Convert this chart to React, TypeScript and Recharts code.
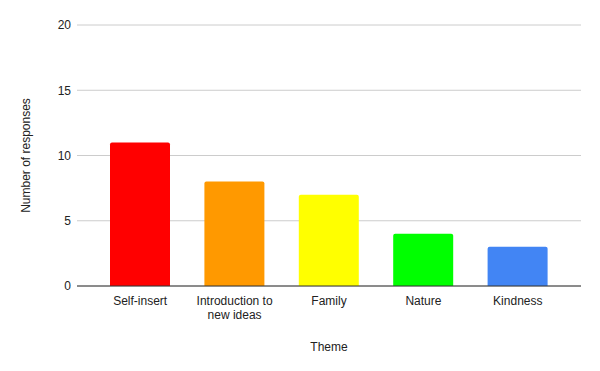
import React from 'react';
import {Bar, BarChart, CartesianGrid, Cell, Text, XAxis, YAxis} from "recharts";

const themes = ['Self-insert', 'Introduction to new ideas', 'Family', 'Nature', 'Kindness'];
const responses = [11, 8, 7, 4, 3];
const barColors = ['#ff0000', '#ff9900', '#ffff00', '#00ff00', '#4285f4'];
const yTicks = [0, 5, 10, 15, 20];

const font = '"Liberation Sans", Arial, sans-serif';

const ThemeTick = (props: any) => {
    const {x, y, payload} = props;
    return (
        <Text x={x} y={y} width={102} textAnchor="middle" verticalAnchor="start" lineHeight={14}
              fontSize={12} fill="#222" fontFamily={font}>
            {payload.value}
        </Text>
    );
};

const App = () => {
    const data = themes.map((theme, i) => ({theme, count: responses[i]}));
    return (
        <div style={{position: 'absolute', left: 0, top: 0}}>
            <BarChart width={600} height={371} data={data} margin={{top: 25, right: 19, left: 0, bottom: 0}}
                      style={{fontFamily: font}}>
                <CartesianGrid stroke="#ccc" vertical={false}/>
                <XAxis dataKey="theme" height={85} tickLine={false} stroke="#333" tickSize={6} tickMargin={4}
                       tick={<ThemeTick/>} interval={0} padding={{left: 16, right: 16}}
                       label={{value: 'Theme', position: 'insideBottom', offset: 20, fontSize: 12, fill: '#222'}}/>
                <YAxis width={77} domain={[0, 20]} ticks={yTicks} axisLine={false} tickLine={false}
                       tickSize={4} tickMargin={2} tick={{fontSize: 12, fill: '#222'}}
                       label={{value: 'Number of responses', angle: -90, position: 'insideLeft', offset: 26,
                           fontSize: 12, fill: '#222', style: {textAnchor: 'middle'}}}/>
                <Bar dataKey="count" barSize={60} radius={[2, 2, 0, 0]} isAnimationActive={false}>
                    {data.map((d, i) => <Cell key={d.theme} fill={barColors[i]}/>)}
                </Bar>
            </BarChart>
        </div>
    );
};

export default App;
